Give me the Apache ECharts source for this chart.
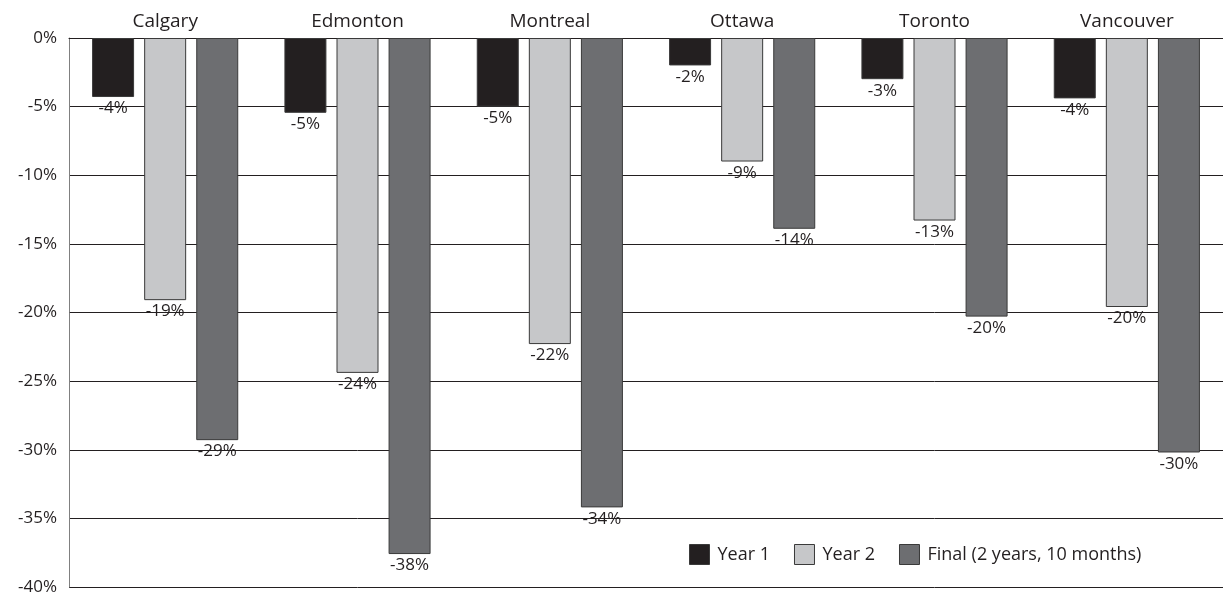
<!DOCTYPE html>
<html><head><meta charset="utf-8">
<script src="https://cdn.jsdelivr.net/npm/echarts@6/dist/echarts.min.js"></script>
<style>html,body{margin:0;padding:0;background:#fff}#c{width:1223px;height:599px}</style>
</head><body><div id="c"></div>
<script>
const cities = ['Calgary','Edmonton','Montreal','Ottawa','Toronto','Vancouver'];
const year1 = [-4.3,-5.45,-5.0,-2.0,-3.0,-4.4];
const year2 = [-19.1,-24.4,-22.3,-9.0,-13.3,-19.6];
const finalV = [-29.3,-37.6,-34.2,-13.9,-20.3,-30.2];
const seriesNames = ['Year 1','Year 2','Final (2 years, 10 months)'];
const yTicks = {min:-40,max:0,interval:5};

const FONT = '"Open Sans", "Noto Sans", sans-serif';
const colors = ['#231f20','#c6c7c9','#6d6e71'];
function mk(name, data, color){
  return {
    name, type:'bar', data, barWidth:42, barGap:'24%',
    itemStyle:{color, borderColor:'#3a3a3a', borderWidth:1},
    label:{show:true, position:'bottom', distance:3, color:'#231f20', fontFamily:FONT, fontSize:17,
      formatter:p=>Math.round(p.value)+'%'}
  };
}
const chart = echarts.init(document.getElementById('c'));
chart.setOption({
  animation:false,
  grid:{left:69,right:-4,top:38,bottom:12,containLabel:false},
  legend:{left:684,top:539,itemWidth:20,itemHeight:20,itemGap:24,icon:'rect',
    textStyle:{fontFamily:FONT,fontSize:18,color:'#231f20',padding:[0,0,0,3]},
    itemStyle:{borderColor:'#3a3a3a',borderWidth:1},
    data:seriesNames},
  xAxis:{type:'category',data:cities,position:'top',
    axisLine:{show:true,lineStyle:{color:'#231f20',width:1}},
    axisTick:{show:false},
    axisLabel:{fontFamily:FONT,fontSize:19,color:'#231f20',margin:7}},
  yAxis:{type:'value',min:yTicks.min,max:yTicks.max,interval:yTicks.interval,
    axisLine:{show:true,lineStyle:{color:'#808080',width:1}},
    axisTick:{show:false},
    splitLine:{show:true,lineStyle:{color:'#231f20',width:1}},
    axisLabel:{fontFamily:FONT,fontSize:17,color:'#231f20',margin:12,formatter:v=>v+'%'}},
  series:[mk(seriesNames[0],year1,colors[0]),mk(seriesNames[1],year2,colors[1]),mk(seriesNames[2],finalV,colors[2])]
});
</script></body></html>
